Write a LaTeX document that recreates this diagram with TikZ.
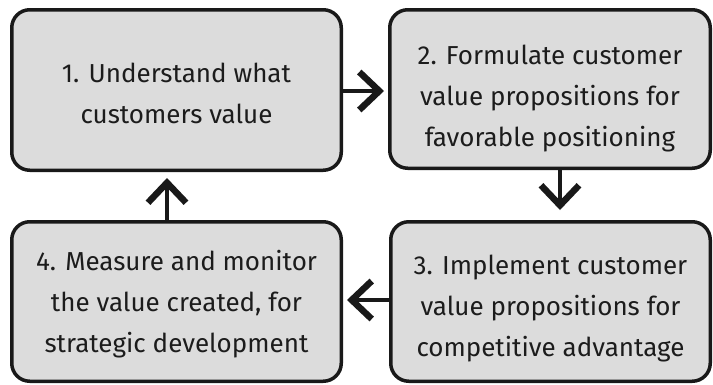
\documentclass[tikz,border=0pt]{standalone}
\usepackage{fontspec}
\setmainfont{Fira Sans}
\usetikzlibrary{arrows.meta}
\definecolor{boxgray}{HTML}{DCDCDC}
\definecolor{textdark}{HTML}{1C1C1C}
\begin{document}
\begin{tikzpicture}[x=1pt,y=-1pt,
  stepbox/.style={draw=black!90, line width=3.5pt, fill=boxgray,
    rounded corners=18pt, inner sep=0pt},
  steptext/.style={align=center, inner sep=0pt, text=textdark,
    font=\fontsize{26}{41}\selectfont},
  flow/.style={draw=black!90, line width=3.8pt, line cap=round,
    -{Straight Barb[length=20pt,width=38pt,line width'=6.5pt]}}]
\useasboundingbox (0,0) rectangle (713,384);

% the four steps of the cycle
\node[stepbox, minimum width=329.5pt, minimum height=160.5pt] (b1) at (176.5,90) {};
\node[stepbox, minimum width=320.5pt, minimum height=158.5pt] (b2) at (550,89) {};
\node[stepbox, minimum width=319.5pt, minimum height=159.5pt] (b3) at (550.5,301.5) {};
\node[stepbox, minimum width=329.5pt, minimum height=159.5pt] (b4) at (176.5,301.5) {};

\node[steptext] (t1) at ([yshift=-3pt]b1.center) {1. Understand what\\customers value};
\node[steptext] (t2) at ([yshift=-10pt]b2.center) {2. Formulate customer\\value propositions for\\favorable positioning};
\node[steptext] (t3) at ([yshift=-7pt]b3.center) {3. Implement customer\\value propositions for\\competitive advantage};
\node[steptext] (t4) at ([yshift=-3pt]b4.center) {4. Measure and monitor\\the value created, for\\strategic development};

% arrows closing the loop
\draw[flow, shorten >=4pt] ([yshift=-1pt]b1.east) -- ([yshift=-1pt]b1.east -| b2.west);
\draw[flow, shorten >=10pt] ([xshift=10pt]b2.south) -- ([xshift=10pt]b2.south |- b3.north);
\draw[flow, shorten >=4pt] ([yshift=1.5pt]b3.west) -- ([yshift=1.5pt]b3.west -| b4.east);
\draw[flow, shorten >=6pt] ([xshift=-9.5pt]b4.north) -- ([xshift=-9.5pt]b4.north |- b1.south);
\end{tikzpicture}
\end{document}
